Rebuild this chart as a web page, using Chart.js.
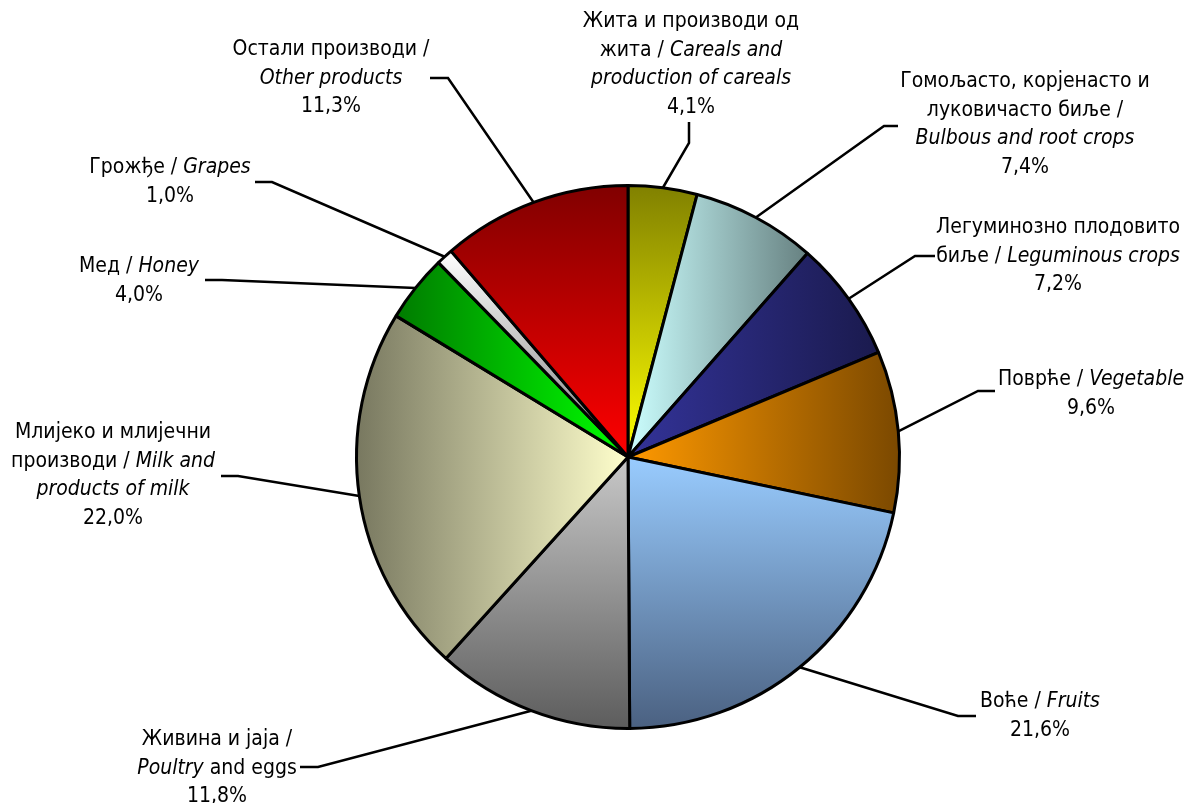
<!DOCTYPE html>
<html><head><meta charset="utf-8">
<script src="https://cdn.jsdelivr.net/npm/chart.js@4"></script>
<style>html,body{margin:0;padding:0;background:#fff}#wrap{width:1188px;height:803px;position:relative}</style>
</head><body><div id="wrap"><canvas id="c"></canvas></div>
<script>
// ---- data ----
const categories = [
  'Жита и производи од жита / Careals and production of careals',
  'Гомољасто, корјенасто и луковичасто биље / Bulbous and root crops',
  'Легуминозно плодовито биље / Leguminous crops',
  'Поврће / Vegetable',
  'Воће / Fruits',
  'Живина и јаја / Poultry and eggs',
  'Млијеко и млијечни производи / Milk and products of milk',
  'Мед / Honey',
  'Грожђе / Grapes',
  'Остали производи / Other products'
];
const values = [4.1, 7.4, 7.2, 9.6, 21.6, 11.8, 22.0, 4.0, 1.0, 11.3];
// label text lines (*...* = italic)
const labelLines = [
  ['Жита и производи од', 'жита / *Careals and*', '*production of careals*'],
  ['Гомољасто, корјенасто и', 'луковичасто биље /', '*Bulbous and root crops*'],
  ['Легуминозно плодовито', 'биље / *Leguminous crops*'],
  ['Поврће / *Vegetable*'],
  ['Воће / *Fruits*'],
  ['Живина и јаја /', '*Poultry* and eggs'],
  ['Млијеко и млијечни', 'производи / *Milk and*', '*products of milk*'],
  ['Мед / *Honey*'],
  ['Грожђе / *Grapes*'],
  ['Остали производи /', '*Other products*']
];

// ---- styles ----
const gradDir  = ['v','h','h','h','v','v','h','h','v','v'];
const gradFrom = ['#808000','#ccffff','#333399','#ff9900','#99ccff','#c8c8c8','#77775f','#007a00','#ffffff','#800000'];
const gradTo   = ['#ffff00','#668080','#1a1a4d','#7a4800','#4a6080','#5c5c5c','#ffffcc','#00ff00','#7a7a7a','#ff0000'];
const labelPos = [
  {x:691,y:22},{x:1025,y:82},{x:1058,y:228},{x:1091,y:380},{x:1040,y:702},
  {x:217,y:740},{x:113,y:433},{x:139,y:267},{x:170,y:168},{x:331,y:50}
];
const leaders = [
  [[689,122],[689,143]],
  [[898,126],[884,126]],
  [[935,256],[915,256]],
  [[995,391],[978,391]],
  [[976,716],[958,716]],
  [[300,767],[318,767]],
  [[221,476],[238,476]],
  [[205,280],[222,280]],
  [[255,182],[272,182]],
  [[430,78],[448,78]]
];
const FONT = '"DejaVu Sans Condensed", "Liberation Sans", sans-serif';
const FSIZE = 21;
const LINEH = 28.5;

function sliceGradient(ctx){
  const chart = ctx.chart, i = ctx.dataIndex, ca = chart.chartArea;
  if(!ca || i === undefined) return gradFrom[i] || '#ccc';
  const cx = (ca.left+ca.right)/2, cy = (ca.top+ca.bottom)/2;
  const r = Math.min(ca.right-ca.left, ca.bottom-ca.top)/2;
  const total = values.reduce((a,b)=>a+b,0);
  let before = 0; for(let k=0;k<i;k++) before += values[k];
  const a0 = -Math.PI/2 + before/total*2*Math.PI;
  const a1 = a0 + values[i]/total*2*Math.PI;
  const pts = [[cx,cy],[cx+r*Math.cos(a0),cy+r*Math.sin(a0)],[cx+r*Math.cos(a1),cy+r*Math.sin(a1)]];
  for(let k=-1;k<=4;k++){ const a=k*Math.PI/2; if(a>a0&&a<a1) pts.push([cx+r*Math.cos(a),cy+r*Math.sin(a)]); }
  const xs = pts.map(p=>p[0]), ys = pts.map(p=>p[1]);
  const c = chart.ctx;
  const g = gradDir[i]==='v'
    ? c.createLinearGradient(0,Math.min(...ys),0,Math.max(...ys))
    : c.createLinearGradient(Math.min(...xs),0,Math.max(...xs),0);
  g.addColorStop(0, gradFrom[i]); g.addColorStop(1, gradTo[i]);
  return g;
}

function drawMixed(c, line, cx, cy){
  const parts = line.split('*');
  const segs = parts.map((t,k)=>({t, it: k%2===1})).filter(s=>s.t.length);
  let w = 0;
  segs.forEach(s=>{ c.font = (s.it?'italic ':'')+FSIZE+'px '+FONT; s.w = c.measureText(s.t).width; w += s.w; });
  let x = cx - w/2;
  segs.forEach(s=>{ c.font = (s.it?'italic ':'')+FSIZE+'px '+FONT; c.fillText(s.t, x, cy); x += s.w; });
}

const labelPlugin = {
  id:'pieLabels',
  afterDraw(chart){
    const c = chart.ctx, meta = chart.getDatasetMeta(0);
    c.save();
    c.strokeStyle = '#000'; c.lineWidth = 2.5; c.lineJoin='miter';
    meta.data.forEach((arc,i)=>{
      const p = arc.getProps(['x','y','startAngle','endAngle','outerRadius'], true);
      const mid = (p.startAngle+p.endAngle)/2;
      const ex = p.x + Math.cos(mid)*p.outerRadius, ey = p.y + Math.sin(mid)*p.outerRadius;
      const L = leaders[i];
      c.beginPath(); c.moveTo(L[0][0],L[0][1]); c.lineTo(L[1][0],L[1][1]); c.lineTo(ex,ey); c.stroke();
    });
    c.fillStyle = '#000'; c.textBaseline = 'middle'; c.textAlign = 'left';
    labelLines.forEach((lines,i)=>{
      const all = lines.concat([values[i].toFixed(1).replace('.',',')+'%']);
      all.forEach((ln,k)=> drawMixed(c, ln, labelPos[i].x, labelPos[i].y + k*LINEH));
    });
    c.restore();
  }
};

new Chart(document.getElementById('c'), {
  type:'pie',
  data:{ labels: categories, datasets:[{ data: values, backgroundColor: sliceGradient, borderColor:'#000', borderWidth:3 }]},
  options:{
    responsive:true, maintainAspectRatio:false, animation:false,
    layout:{ padding:{ left:355, top:184, right:287, bottom:73 } },
    plugins:{ legend:{display:false}, tooltip:{enabled:false} }
  },
  plugins:[labelPlugin]
});
</script></body></html>
